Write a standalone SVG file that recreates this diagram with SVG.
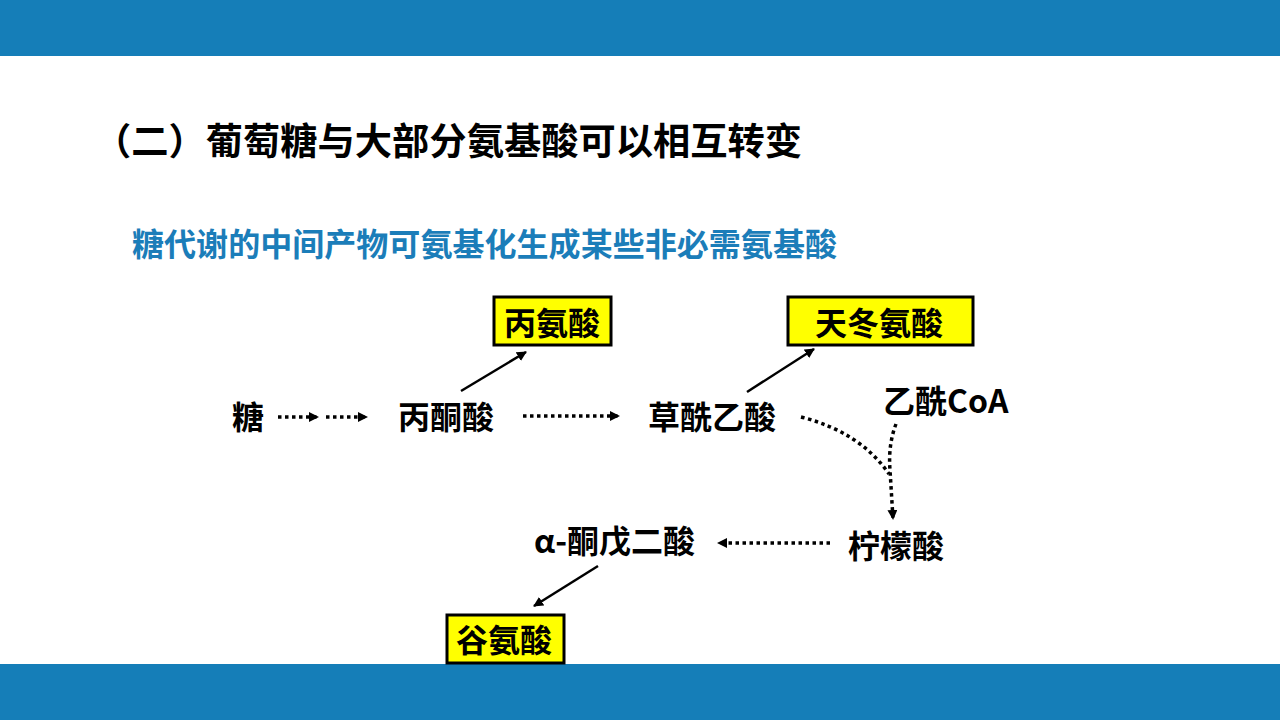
<svg xmlns="http://www.w3.org/2000/svg" width="1280" height="720" viewBox="0 0 1280 720">
<defs>
<marker id="ah" viewBox="0 0 10 10" refX="9" refY="5" markerWidth="10" markerHeight="10" markerUnits="userSpaceOnUse" orient="auto">
<path d="M0,0 L10,5 L0,10 Z" fill="#000"/>
</marker>
<style>
.t{font-family:"Noto Sans CJK SC","Microsoft YaHei",sans-serif;font-weight:700;fill:#000}
.n{font-size:32px}
.box{fill:#FFFF00;stroke:#000;stroke-width:3}
.dot{fill:none;stroke:#000;stroke-width:3.5;stroke-dasharray:3.5 3.5}
.sol{fill:none;stroke:#000;stroke-width:2.5}
</style>
</defs>
<rect x="0" y="0" width="1280" height="56" fill="#157EB8"/>
<rect x="0" y="664" width="1280" height="56" fill="#157EB8"/>
<text class="t" x="94" y="155" font-size="37" textLength="708" lengthAdjust="spacingAndGlyphs">（二）葡萄糖与大部分氨基酸可以相互转变</text>
<text class="t" x="132" y="256" font-size="32" textLength="705" lengthAdjust="spacingAndGlyphs" style="fill:#1B7DB9">糖代谢的中间产物可氨基化生成某些非必需氨基酸</text>

<g id="connectors">
<line class="dot" x1="278" y1="417" x2="318" y2="417" marker-end="url(#ah)"/>
<line class="dot" x1="326" y1="417" x2="367" y2="417" marker-end="url(#ah)"/>
<line class="dot" x1="523" y1="416" x2="619" y2="416" marker-end="url(#ah)"/>
<line class="sol" x1="461" y1="391" x2="526" y2="352" marker-end="url(#ah)"/>
<line class="sol" x1="747" y1="392" x2="814" y2="349" marker-end="url(#ah)"/>
<path class="dot" d="M801,417 Q860,432 889,474"/>
<path class="dot" d="M896,424 Q888,445 890,470 L893,519" marker-end="url(#ah)"/>
<line class="dot" x1="830" y1="543" x2="718" y2="543" marker-end="url(#ah)"/>
<line class="sol" x1="598" y1="566" x2="534" y2="606" marker-end="url(#ah)"/>
</g>

<g id="n-tang"><text class="t n" x="232" y="429">糖</text></g>
<g id="n-bingtongsuan"><text class="t n" x="398" y="429">丙酮酸</text></g>
<g id="n-caoxianyisuan"><text class="t n" x="648" y="429">草酰乙酸</text></g>
<g id="n-yixianCoA"><text class="t n" x="883" y="413">乙酰CoA</text></g>
<g id="n-ningmengsuan"><text class="t n" x="848" y="558">柠檬酸</text></g>
<g id="n-tongwuersuan"><text class="t n" x="534" y="553">α-酮戊二酸</text></g>
<g id="n-binganSuan"><rect class="box" x="494" y="297" width="117" height="48"/><text class="t n" x="504" y="335">丙氨酸</text></g>
<g id="n-tiandonganSuan"><rect class="box" x="788" y="297" width="185" height="48"/><text class="t n" x="815" y="335">天冬氨酸</text></g>
<g id="n-guanSuan"><rect class="box" x="447" y="615" width="117" height="48"/><text class="t n" x="456" y="652">谷氨酸</text></g>
</svg>
